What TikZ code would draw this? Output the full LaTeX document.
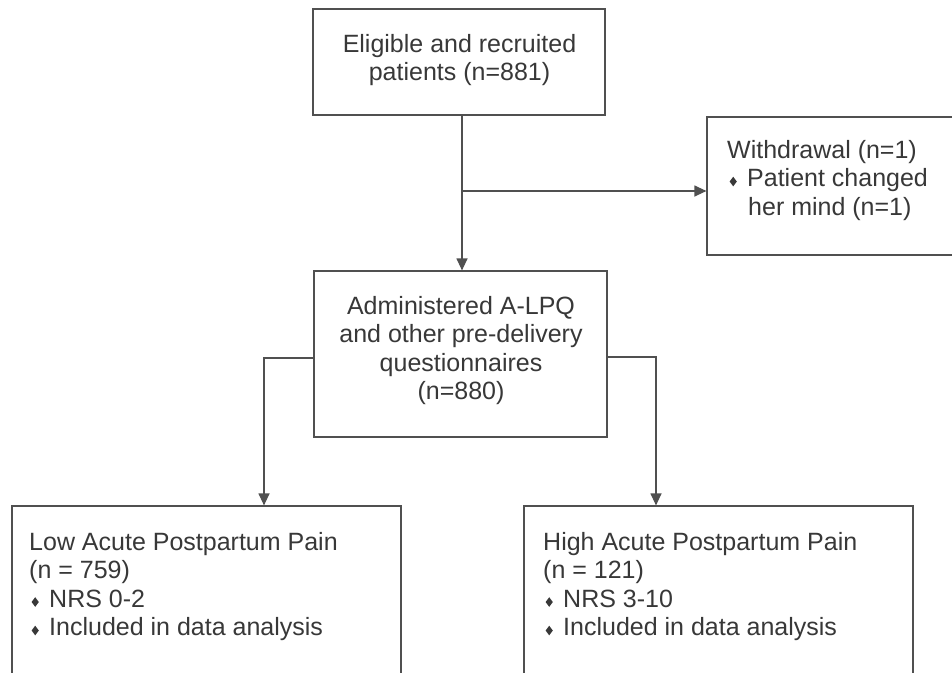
\documentclass[tikz,border=0pt]{standalone}
\usepackage{fontspec}
\setmainfont{Liberation Sans}
\usetikzlibrary{arrows.meta}
\definecolor{linec}{HTML}{505050}
\definecolor{txtc}{HTML}{383838}
\newcommand{\dmd}{\tikz[baseline=0pt]\fill[txtc] (0pt,0.5pt)--(3.6pt,5.3pt)--(0pt,10.1pt)--(-3.6pt,5.3pt)--cycle;}
\newcommand{\bul}{\makebox[20pt][l]{\hspace{2.4pt}\dmd}}
\tikzset{
  box/.style={draw=linec, line width=1.2pt, rectangle, inner sep=0pt},
  txt/.style={inner sep=0pt, text=txtc, font=\fontsize{25}{28.5}\selectfont},
  arr/.style={draw=linec, line width=1.2pt, -{Triangle[length=12pt,width=11pt]}},
}
\begin{document}
\begin{tikzpicture}[x=1pt,y=-1pt]
\useasboundingbox (0,0) rectangle (952,672);
\clip (0,0) rectangle (952,672);
\fill[white] (0,0) rectangle (952,672);
% boxes
\node[box, minimum width=292pt, minimum height=106pt] (top) at (459,62) {};
\node[box, minimum width=293pt, minimum height=166pt] (mid) at (460.5,354) {};
\node[box, minimum width=263pt, minimum height=138pt] (wd) at (838.5,186) {};
\node[box, minimum width=389pt, minimum height=220pt] (low) at (206.5,616) {};
\node[box, minimum width=389pt, minimum height=220pt] (high) at (718.5,616) {};
% texts
\node[txt, anchor=north, align=center] (toptxt) at (459.5,34) {Eligible and recruited\\patients (n=881)};
\node[txt, anchor=north, align=center] (midtxt) at (461,296) {Administered A-LPQ\\and other pre-delivery\\questionnaires\\(n=880)};
\node[txt, anchor=north west, align=left] (wdtxt) at (727,140) {Withdrawal (n=1)\\\bul Patient changed\\\hspace{21pt}her mind (n=1)};
\node[txt, anchor=north west, align=left] (lowtxt) at (29,532) {Low Acute Postpartum Pain\\(n = 759)\\\bul NRS 0-2\\\bul Included in data analysis};
\node[txt, anchor=north west, align=left] (hightxt) at (543,532) {High Acute Postpartum Pain\\(n = 121)\\\bul NRS 3-10\\\bul Included in data analysis};
% connectors
\coordinate (spine) at (462,0);
\coordinate (j) at (462,191);
\draw[arr] (top.south -| spine) -- (mid.north -| spine);
\draw[arr] (j) -- (j -| wd.west);
\draw[arr] ([yshift=-4pt]mid.west) -| ([xshift=57.5pt]low.north);
\draw[arr] ([yshift=-3pt]mid.east) -| ([xshift=-62.5pt]high.north);
\end{tikzpicture}
\end{document}
